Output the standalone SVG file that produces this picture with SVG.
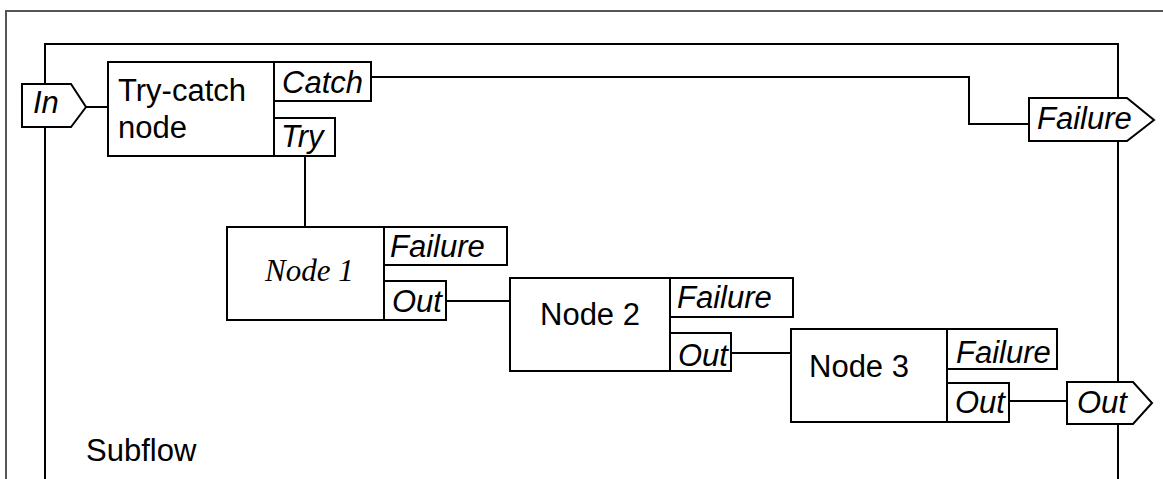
<svg xmlns="http://www.w3.org/2000/svg" width="1163" height="479" viewBox="0 0 1163 479">
  <style>
    .box { fill: #fff; stroke: #000; stroke-width: 2; }
    .wire { fill: none; stroke: #000; stroke-width: 2; }
    .frame { fill: none; stroke: #000; stroke-width: 2; }
    .outer { fill: none; stroke: #555; stroke-width: 2; }
    .lbl { font-family: "Liberation Sans", Arial, sans-serif; font-size: 31px; fill: #000; }
    .port { font-family: "Liberation Sans", Arial, sans-serif; font-size: 31px; font-style: italic; fill: #000; }
    .serif { font-family: "Liberation Serif", "Times New Roman", serif; font-size: 31px; font-style: italic; fill: #000; }
  </style>
  <rect width="1163" height="479" fill="#fff"/>

  <!-- outer canvas border -->
  <path class="outer" d="M6,479 V11 H1163"/>

  <!-- subflow frame -->
  <g id="subflow">
    <path class="frame" d="M45,479 V44 H1118 V479"/>
    <text class="lbl" x="86" y="461">Subflow</text>
  </g>

  <!-- connectors -->
  <g id="connectors">
    <path class="wire" d="M86,107 H108"/>
    <path class="wire" d="M371,77 H969 V124 H1029"/>
    <path class="wire" d="M305,156 V227"/>
    <path class="wire" d="M446,301 H510"/>
    <path class="wire" d="M731,353 H791"/>
    <path class="wire" d="M1009,401 H1067"/>
  </g>

  <!-- subflow input -->
  <g id="in-port">
    <path class="box" d="M22,84 H71 L86,107 L71,127 H22 Z"/>
    <text class="port" x="33" y="113">In</text>
  </g>

  <!-- try-catch node -->
  <g id="try-catch">
    <rect class="box" x="108" y="62" width="166" height="94"/>
    <text class="lbl" x="118" y="101">Try-catch</text>
    <text class="lbl" x="118" y="138">node</text>
    <rect class="box" x="274" y="62" width="97" height="39"/>
    <text class="port" x="282" y="93">Catch</text>
    <rect class="box" x="274" y="118" width="61" height="38"/>
    <text class="port" x="281" y="147">Try</text>
  </g>

  <!-- subflow failure output -->
  <g id="failure-port">
    <path class="box" d="M1029,98 H1127 L1154,120 L1127,141 H1029 Z"/>
    <text class="port" x="1037" y="129">Failure</text>
  </g>

  <!-- node 1 -->
  <g id="node1">
    <rect class="box" x="227" y="227" width="157" height="93"/>
    <text class="serif" x="265" y="281">Node 1</text>
    <rect class="box" x="384" y="227" width="123" height="38"/>
    <text class="port" x="390" y="257">Failure</text>
    <rect class="box" x="384" y="281" width="62" height="39"/>
    <text class="port" x="392" y="312">Out</text>
  </g>

  <!-- node 2 -->
  <g id="node2">
    <rect class="box" x="510" y="278" width="160" height="93"/>
    <text class="lbl" x="540" y="325">Node 2</text>
    <rect class="box" x="670" y="278" width="123" height="39"/>
    <text class="port" x="677" y="308">Failure</text>
    <rect class="box" x="670" y="333" width="61" height="38"/>
    <text class="port" x="678" y="366">Out</text>
  </g>

  <!-- node 3 -->
  <g id="node3">
    <rect class="box" x="791" y="329" width="156" height="93"/>
    <text class="lbl" x="809" y="377">Node 3</text>
    <rect class="box" x="947" y="329" width="110" height="40"/>
    <text class="port" x="956" y="363">Failure</text>
    <rect class="box" x="947" y="383" width="62" height="39"/>
    <text class="port" x="955" y="413">Out</text>
  </g>

  <!-- subflow output -->
  <g id="out-port">
    <path class="box" d="M1067,382 H1133 L1152,403 L1133,424 H1067 Z"/>
    <text class="port" x="1077" y="413">Out</text>
  </g>
</svg>
